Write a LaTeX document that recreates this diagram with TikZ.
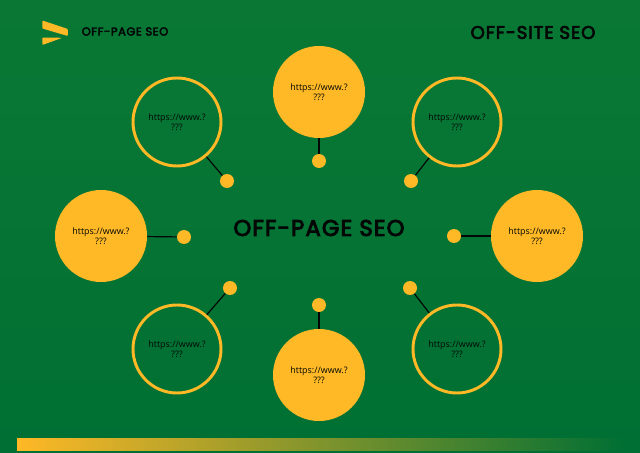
\documentclass[tikz,border=0pt]{standalone}
\usepackage{fontspec}
\setmainfont{Poppins}
\newfontfamily\urlfont{Open Sans}
\newfontfamily\titlefont[LetterSpace=5,UprightFont=*,UprightFeatures={FakeBold=4}]{Poppins}
\definecolor{bgtop}{HTML}{0A7834}
\definecolor{bgbot}{HTML}{006F33}
\definecolor{amber}{HTML}{FFB826}
\definecolor{ink}{HTML}{030806}
\tikzset{
  px/.style={x=0.75pt,y=-0.75pt},
  urltext/.style={font=\urlfont\fontsize{6.7}{7.8}\selectfont,text=ink,align=center},
  solidc/.style={circle,fill=amber,minimum size=69pt,inner sep=0pt,urltext},
  ringc/.style={circle,draw=amber,line width=2.2pt,minimum size=66pt,inner sep=0pt,urltext},
  dotc/.style={circle,fill=amber,minimum size=10.5pt,inner sep=0pt},
  link/.style={draw=ink,line width=0.9pt},
  titletext/.style={text=ink,font=\titlefont\fontsize{#1}{#1}\selectfont,inner sep=0pt}
}
\begin{document}
\begin{tikzpicture}[px]
\useasboundingbox (0,0) rectangle (640,453);
\shade[top color=bgtop,bottom color=bgbot] (0,0) rectangle (640,453);
% bottom gradient bar
\shade[left color=amber,right color=bgbot,shading angle=90] (17,438) rectangle (625,450.5);
% logo
\fill[amber,rounded corners=0.7pt] (42.3,20.5) -- (67.8,29) -- (67.8,36) -- (42.3,28.5) -- cycle;
\fill[amber,rounded corners=0.7pt] (42.3,37.5) -- (62.3,37.8) -- (42.3,45) -- cycle;
\node[titletext=8.6,anchor=west] (brand) at (81.5,31.5) {OFF-PAGE SEO};
\node[titletext=13.6,anchor=center] (sub) at (533,32.5) {OFF-SITE SEO};
\node[titletext=17,anchor=center] (main) at (319,228) {OFF-PAGE SEO};
% circles
\node[solidc] (ct) at (319,92) {https://www.?\\???};
\node[solidc] (cl) at (101,236) {https://www.?\\???};
\node[solidc] (cr) at (537,236) {https://www.?\\???};
\node[solidc] (cb) at (319,375) {https://www.?\\???};
\node[ringc] (ctl) at (177,122) {https://www.?\\???};
\node[ringc] (ctr) at (457,122) {https://www.?\\???};
\node[ringc] (cbl) at (177,349) {https://www.?\\???};
\node[ringc] (cbr) at (457,349) {https://www.?\\???};
% dots
\node[dotc] (dt) at (319,161) {};
\node[dotc] (dl) at (184,237) {};
\node[dotc] (dr) at (454,236) {};
\node[dotc] (db) at (319,305) {};
\node[dotc] (dtl) at (227,181) {};
\node[dotc] (dtr) at (411,181) {};
\node[dotc] (dbl) at (230,288) {};
\node[dotc] (dbr) at (410,288) {};
% connectors
\foreach \a/\b in {ct/dt,cl/dl,cr/dr,cb/db,ctl/dtl,ctr/dtr,cbl/dbl,cbr/dbr}
  \draw[link] (\a) -- (\b);
\end{tikzpicture}
\end{document}
